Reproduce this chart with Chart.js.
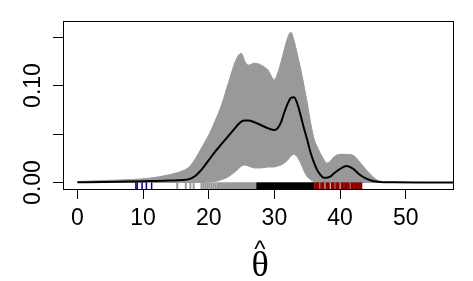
<!DOCTYPE html>
<html>
<head>
<meta charset="utf-8">
<script src="https://cdn.jsdelivr.net/npm/chart.js@4/dist/chart.umd.min.js"></script>
<style>
  body { margin: 0; background: #fff; }
  #wrap { width: 473px; height: 281px; }
</style>
</head>
<body>
<div id="wrap"><canvas id="densityChart"></canvas></div>
<script>
// grid of theta values and the density estimate with its band
const thetaGrid = [0, 4, 8, 11, 14, 16, 17, 18, 19, 20,
  21, 22, 23, 24, 24.5, 25, 25.5, 26, 27, 28,
  29, 30, 30.5, 31, 31.5, 32, 32.5, 33, 33.5, 34,
  34.5, 35, 35.5, 36, 36.5, 37, 37.5, 38, 38.5, 39,
  40, 41, 42, 43, 44, 45, 46, 48, 52, 60];
const density = [0.0003, 0.0005, 0.001, 0.0015, 0.002, 0.0025, 0.0035, 0.007, 0.014, 0.023,
  0.032, 0.040, 0.048, 0.056, 0.060, 0.063, 0.064, 0.064, 0.062, 0.059,
  0.056, 0.054, 0.056, 0.062, 0.072, 0.081, 0.087, 0.088, 0.081, 0.069,
  0.056, 0.044, 0.031, 0.021, 0.013, 0.008, 0.005, 0.005, 0.006, 0.009,
  0.014, 0.017, 0.014, 0.008, 0.004, 0.0015, 0.0005, 0.0002, 0.0001, 0.0001];
const upperBand = [0.001, 0.002, 0.003, 0.0045, 0.008, 0.012, 0.016, 0.025, 0.037, 0.049,
  0.064, 0.081, 0.103, 0.124, 0.131, 0.133, 0.125, 0.121, 0.123, 0.121,
  0.116, 0.106, 0.113, 0.124, 0.137, 0.149, 0.155, 0.146, 0.132, 0.117,
  0.100, 0.082, 0.062, 0.046, 0.037, 0.030, 0.024, 0.020, 0.022, 0.026,
  0.029, 0.029, 0.028, 0.021, 0.013, 0.006, 0.0015, 0.0003, 0, 0];
const lowerBand = [0, 0, 0, 0, 0, 0, 0, 0, 0, 0.0005,
  0.001, 0.003, 0.006, 0.011, 0.014, 0.017, 0.018, 0.017, 0.015, 0.015,
  0.016, 0.016, 0.017, 0.018, 0.020, 0.023, 0.027, 0.029, 0.026, 0.020,
  0.012, 0.006, 0.003, 0.001, 0, 0, 0, 0, 0, 0,
  0, 0, 0, 0, 0, 0, 0, 0, 0, 0];

// observed estimates shown as a rug, by group
const rugBlue = [8.9, 9.1, 9.85, 10.5, 11.3];
const rugGray = [15.2, 16.5, 17.2, 17.7,
  18.9, 19.2, 19.5, 19.8, 20.1, 20.4, 20.7, 21.0, 21.3, 21.5,
  21.7, 21.9, 22.1, 22.3, 22.5, 22.7, 22.9, 23.1, 23.3, 23.5,
  23.7, 23.9, 24.1, 24.3, 24.5, 24.7, 24.9, 25.1, 25.3, 25.5,
  25.7, 25.9, 26.1, 26.3, 26.5, 26.7, 26.9, 27.1];
const rugBlack = [27.3, 27.5, 27.7, 27.9, 28.1, 28.3, 28.5, 28.7, 28.9, 29.1,
  29.3, 29.5, 29.7, 29.9, 30.1, 30.3, 30.5, 30.7, 30.9, 31.1,
  31.3, 31.5, 31.7, 31.9, 32.1, 32.3, 32.5, 32.7, 32.9, 33.1,
  33.3, 33.5, 33.7, 33.9, 34.1, 34.3, 34.5, 34.7, 34.9, 35.1,
  35.3, 35.5, 35.7, 35.85];
const rugRed = [36.0, 36.2, 36.4, 36.6, 36.75, 37.1, 37.3, 37.5, 37.9, 38.1,
  38.3, 38.7, 38.9, 39.05, 39.4, 39.6, 39.8, 40.2, 40.4, 40.6,
  40.8, 41.0, 41.2, 41.35, 41.7, 41.9, 42.1, 42.3, 42.5, 42.7,
  42.9, 43.1, 43.25];

const xTicks = [0, 10, 20, 30, 40, 50];
const yTicks = [0, 0.05, 0.10, 0.15];
const yTickLabels = ['0.00', '', '0.10', ''];

const rugLevel = -0.0035;
const toPoints = (xv, yv) => xv.map((v, i) => ({x: v, y: yv[i]}));
const rugSet = (values, color, width) => ({
  type: 'scatter',
  data: values.map(v => ({x: v, y: rugLevel})),
  pointStyle: 'line',
  pointRotation: 90,
  pointRadius: 3.5,
  pointHoverRadius: 3.5,
  pointBorderWidth: width,
  pointBorderColor: color,
  borderColor: color,
  clip: 6
});

// R-style box, tick labels and the theta-hat title
const rFrame = {
  id: 'rFrame',
  afterDraw(chart) {
    const {ctx, chartArea: a, scales: {x, y}} = chart;
    ctx.save();
    ctx.strokeStyle = '#000';
    ctx.lineWidth = 1;
    ctx.strokeRect(a.left + 0.5, a.top + 0.5, a.right - a.left, a.bottom - a.top);

    ctx.fillStyle = '#000';
    ctx.font = '23px "Liberation Sans", Arial, sans-serif';
    ctx.textAlign = 'center';
    ctx.textBaseline = 'alphabetic';
    xTicks.forEach(v => ctx.fillText(String(v), x.getPixelForValue(v), 225));

    yTicks.forEach((v, i) => {
      if (!yTickLabels[i]) return;
      ctx.save();
      ctx.translate(a.left - 23.5, y.getPixelForValue(v));
      ctx.rotate(-Math.PI / 2);
      ctx.fillText(yTickLabels[i], 0, 0);
      ctx.restore();
    });

    const cx = (a.left + a.right) / 2 + 2;
    ctx.font = '24px "Liberation Sans", Arial, sans-serif';
    ctx.fillText('^', cx, 257);
    ctx.font = '36px "Liberation Serif", "DejaVu Serif", serif';
    ctx.fillText('θ', cx, 276);
    ctx.restore();
  }
};

new Chart(document.getElementById('densityChart'), {
  type: 'line',
  data: {
    datasets: [
      {
        label: 'density',
        data: toPoints(thetaGrid, density),
        borderColor: '#000',
        borderWidth: 2,
        pointRadius: 0,
        fill: false,
        cubicInterpolationMode: 'monotone'
      },
      rugSet(rugBlue, '#00008b', 1.5),
      rugSet(rugGray, '#999999', 2),
      rugSet(rugBlack, '#000000', 2),
      rugSet(rugRed, '#8b0000', 1.8),
      {
        label: 'upper',
        data: toPoints(thetaGrid, upperBand),
        borderColor: '#999999',
        borderWidth: 1,
        pointRadius: 0,
        backgroundColor: '#999999',
        fill: '+1',
        cubicInterpolationMode: 'monotone'
      },
      {
        label: 'lower',
        data: toPoints(thetaGrid, lowerBand),
        borderColor: '#999999',
        borderWidth: 1,
        pointRadius: 0,
        fill: false,
        cubicInterpolationMode: 'monotone'
      }
    ]
  },
  options: {
    responsive: true,
    maintainAspectRatio: false,
    animation: false,
    layout: { padding: { top: 21, right: 20, left: 0, bottom: 0 } },
    plugins: {
      legend: { display: false },
      tooltip: { enabled: false }
    },
    scales: {
      x: {
        type: 'linear',
        min: -2.2,
        max: 57.2,
        afterBuildTicks: scale => { scale.ticks = xTicks.map(v => ({value: v})); },
        afterFit: scale => { scale.height = 92; },
        ticks: { display: false },
        grid: { drawOnChartArea: false, drawTicks: true, tickLength: 10, color: '#000', lineWidth: 1 },
        border: { display: false }
      },
      y: {
        type: 'linear',
        min: -0.0067,
        max: 0.1665,
        afterBuildTicks: scale => { scale.ticks = yTicks.map(v => ({value: v})); },
        afterFit: scale => { scale.width = 63; },
        ticks: { display: false },
        grid: { drawOnChartArea: false, drawTicks: true, tickLength: 10, color: '#000', lineWidth: 1 },
        border: { display: false }
      }
    }
  },
  plugins: [rFrame]
});
</script>
</body>
</html>
